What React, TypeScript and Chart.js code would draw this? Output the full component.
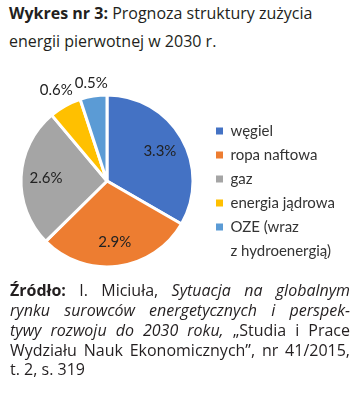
import React, { useEffect, useRef } from 'react';
import { Chart, registerables } from 'chart.js';

Chart.register(...registerables);

// ---- data ----
const categories: (string | string[])[] = [
  'węgiel',
  'ropa naftowa',
  'gaz',
  'energia jądrowa',
  ['OZE (wraz', 'z hydroenergią)'],
];
const values: number[] = [3.3, 2.9, 2.6, 0.6, 0.5];
const sliceColors: string[] = ['#4472C4', '#ED7D31', '#A5A5A5', '#FFC000', '#5B9BD5'];

const LABEL_FAMILY = 'Lato';
const LABEL_SIZE = 15;
const LEGEND_SIZE = 15;

const sliceLabels = {
  id: 'sliceLabels',
  afterDatasetsDraw(chart: any) {
    const ctx: CanvasRenderingContext2D = chart.ctx;
    const meta = chart.getDatasetMeta(0);
    const data = chart.data.datasets[0].data as number[];
    const total = data.reduce((a, b) => a + b, 0);
    ctx.save();
    ctx.font = `${LABEL_SIZE}px ${LABEL_FAMILY}`;
    ctx.fillStyle = '#222222';
    ctx.textAlign = 'center';
    ctx.textBaseline = 'middle';
    meta.data.forEach((el: any, i: number) => {
      const p = el.getProps(['x', 'y', 'startAngle', 'endAngle', 'outerRadius'], true);
      const mid = (p.startAngle + p.endAngle) / 2;
      const c = Math.cos(mid);
      const s = Math.sin(mid);
      const text = data[i].toFixed(1) + '%';
      const w = ctx.measureText(text).width;
      const h = 12;
      let d: number;
      if (data[i] / total > 0.1) d = p.outerRadius * 0.71;
      else d = p.outerRadius + 5 + (Math.abs(c) * w) / 2 + (Math.abs(s) * h) / 2;
      ctx.fillText(text, p.x + c * d, p.y + s * d + 0.5);
    });
    ctx.restore();
  },
};

export default function App() {
  const ref = useRef<HTMLCanvasElement>(null);

  useEffect(() => {
    document.body.style.margin = '0';
    const canvas = ref.current!;
    const m = document.createElement('canvas').getContext('2d')!;
    m.font = `${LEGEND_SIZE}px ${LABEL_FAMILY}`;
    const maxTextW = Math.max(
      ...categories.map((c) =>
        Array.isArray(c)
          ? m.measureText(c.reduce((a, b) => (a.length > b.length ? a : b))).width
          : m.measureText(c).width
      )
    );
    const legendPad = 9;
    const boxW = 7;
    const legendW = legendPad + boxW + LEGEND_SIZE / 2 + maxTextW + 10;
    const legendLeft = 207;
    const padRight = 357 - legendLeft - legendW;

    const overridesAny: any = (Chart as any).overrides;
    const baseGen =
      overridesAny?.pie?.plugins?.legend?.labels?.generateLabels ||
      overridesAny?.doughnut?.plugins?.legend?.labels?.generateLabels;

    const chart = new Chart(canvas, {
      type: 'pie',
      data: {
        labels: categories as any,
        datasets: [
          {
            data: values,
            backgroundColor: sliceColors,
            borderColor: '#ffffff',
            borderWidth: 3,
            radius: 86,
          } as any,
        ],
      },
      options: {
        responsive: false,
        maintainAspectRatio: false,
        animation: false,
        layout: { padding: { left: 7, top: 25.5, bottom: 8.5, right: padRight } },
        plugins: {
          tooltip: { enabled: false },
          legend: {
            position: 'right',
            align: 'end',
            labels: {
              boxWidth: boxW,
              boxHeight: 7,
              padding: legendPad,
              color: '#333333',
              font: { family: LABEL_FAMILY, size: LEGEND_SIZE, lineHeight: '24px' } as any,
              generateLabels: (ch: any) =>
                baseGen(ch).map((it: any) => ({ ...it, lineWidth: 0 })),
            },
          },
        },
      } as any,
      plugins: [sliceLabels],
    });
    return () => chart.destroy();
  }, []);

  const textColor = '#231f20';
  const lineStyle: React.CSSProperties = {
    textAlign: 'justify',
    textAlignLast: 'justify' as any,
    whiteSpace: 'normal',
  };

  return (
    <div
      style={{
        position: 'relative',
        width: 357,
        height: 420,
        background: '#ffffff',
        overflow: 'hidden',
      }}
    >
      <canvas
        ref={ref}
        width={357}
        height={225}
        style={{ position: 'absolute', left: 0, top: 60, width: 357, height: 225 }}
      />
      <div
        style={{
          position: 'absolute',
          left: 9,
          top: -1.2,
          fontFamily: '"Open Sans", sans-serif',
          fontSize: 16,
          lineHeight: '28px',
          color: textColor,
          whiteSpace: 'nowrap',
          zIndex: 1,
        }}
      >
        <div>
          <b>Wykres nr 3:</b> Prognoza struktury zużycia
        </div>
        <div>energii pierwotnej w 2030 r.</div>
      </div>
      <div
        style={{
          position: 'absolute',
          left: 10,
          top: 281.2,
          width: 340,
          fontFamily: '"Open Sans", sans-serif',
          fontSize: 16,
          lineHeight: '19.8px',
          color: textColor,
          zIndex: 1,
        }}
      >
        <div style={lineStyle}>
          <b>Źródło:</b> I. Miciuła, <i>Sytuacja na globalnym</i>
        </div>
        <div style={lineStyle}>
          <i>rynku surowców energetycznych i perspek-</i>
        </div>
        <div style={lineStyle}>
          <i>tywy rozwoju do 2030 roku,</i> „Studia i Prace
        </div>
        <div style={lineStyle}>Wydziału Nauk Ekonomicznych”, nr 41/2015,</div>
        <div>t. 2, s. 319</div>
      </div>
    </div>
  );
}
